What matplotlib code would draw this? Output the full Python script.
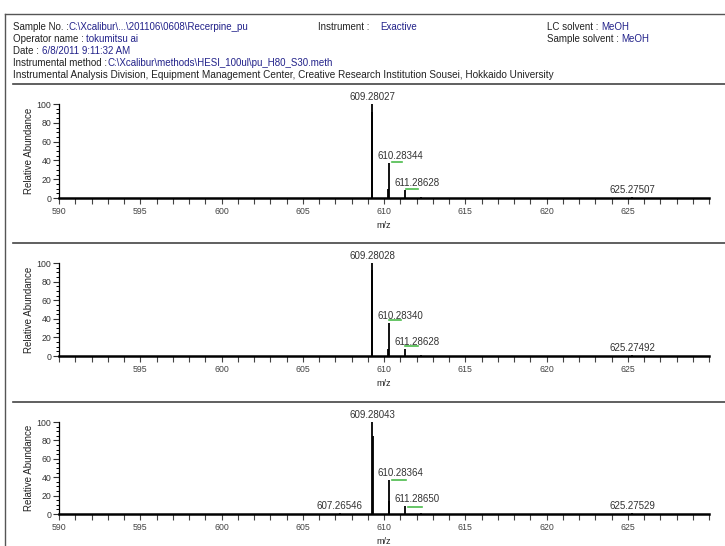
import matplotlib
matplotlib.use('Agg')
import matplotlib.pyplot as plt
import numpy as np
from matplotlib.ticker import MultipleLocator

plt.rcParams['font.family'] = ['Liberation Sans', 'DejaVu Sans']

W, H = 725, 546

# ---- data ----
mz1 = [609.25, 609.28027, 610.25, 610.28344, 611.28628, 612.29, 625.27507]
ab1 = [92, 100, 10, 37, 9, 1.5, 1.5]
lab_mz1 = [609.28027, 610.28344, 611.28628, 625.27507]
lab_ab1 = [100, 37, 9, 1.5]
green1 = [(610.49, 611.11, 38), (611.35, 612.09, 10)]

mz2 = [609.25, 609.28028, 610.25, 610.28340, 611.28628, 612.29, 625.27492]
ab2 = [93, 100, 7, 35, 8, 1.5, 1]
lab_mz2 = [609.28028, 610.28340, 611.28628, 625.27492]
lab_ab2 = [100, 35, 8, 1]
green2 = [(610.28, 611.05, 39), (611.32, 612.09, 11)]

mz3 = [607.26546, 609.28043, 609.30, 610.28364, 610.31, 611.28650, 612.29, 625.27529]
ab3 = [1, 100, 85, 37, 14, 9, 1.5, 1.5]
lab_mz3 = [607.26546, 609.28043, 610.28364, 611.28650, 625.27529]
lab_ab3 = [1, 100, 37, 9, 1.5]
green3 = [(610.49, 611.35, 37), (611.48, 612.34, 8)]

# header fields
hdr_left = [("Sample No. :", "C:\\Xcalibur\\...\\201106\\0608\\Recerpine_pu"),
            ("Operator name : ", "tokumitsu ai"),
            ("Date : ", "6/8/2011 9:11:32 AM"),
            ("Instrumental method :", "C:\\Xcalibur\\methods\\HESI_100ul\\pu_H80_S30.meth")]
hdr_footer = ("Instrumental Analysis Division, Equipment Management Center, "
              "Creative Research Institution Sousei, Hokkaido University")

blue = '#22228a'
ink = '#222222'


def rect(x0, yt, x1, yb):
    return [x0 / W, 1 - yb / H, (x1 - x0) / W, (yb - yt) / H]


fig = plt.figure(figsize=(W / 100, H / 100), dpi=100)

# page background: frame, header, separators (pixel coordinates)
bg = fig.add_axes([0, 0, 1, 1])
bg.set_xlim(0, W)
bg.set_ylim(H, 0)
bg.axis('off')
bg.plot([5, W], [14, 14], c='#555555', lw=1)
bg.plot([5, 5], [14, H], c='#555555', lw=1)
for yy in [84, 243, 402]:
    bg.plot([13, W], [yy, yy], c='#444444', lw=1.2)

rows = [27, 39, 51, 63]
for (lab, val), yy in zip(hdr_left, rows):
    t = bg.text(13, yy, lab, fontsize=7, color=ink, va='center', ha='left')
    bg.annotate(val, xy=(1, 0.5), xycoords=t, va='center', ha='left',
                fontsize=7, color=blue)
bg.text(13, 75, hdr_footer, fontsize=7.2, color=ink, va='center', ha='left')

bg.text(318, 27, "Instrument :", fontsize=7, color=ink, va='center')
bg.text(380, 27, "Exactive", fontsize=7, color=blue, va='center')
t = bg.text(547, 27, "LC solvent : ", fontsize=7, color=ink, va='center')
bg.annotate("MeOH", xy=(1, 0.5), xycoords=t, va='center', fontsize=7, color=blue)
t = bg.text(547, 39, "Sample solvent : ", fontsize=7, color=ink, va='center')
bg.annotate("MeOH", xy=(1, 0.5), xycoords=t, va='center', fontsize=7, color=blue)

panels = [
    (mz1, ab1, lab_mz1, lab_ab1, green1, (59, 104, 709, 198), 226, True),
    (mz2, ab2, lab_mz2, lab_ab2, green2, (59, 263, 709, 356), 384, False),
    (mz3, ab3, lab_mz3, lab_ab3, green3, (59, 422, 709, 514), 541, True),
]

for k, (mz, ab, lmz, lab, grn, box, mzy, show590) in enumerate(panels):
    ax = fig.add_axes(rect(*box))
    ax.set_xlim(590, 630)
    ax.set_ylim(0, 100)
    ax.vlines(mz, 0, ab, colors='k', lw=1.3, zorder=3)
    for g0, g1, lvl in grn:
        ax.plot([g0, g1], [lvl, lvl], c='#4cbb4c', lw=1.2, zorder=2)
    for m, a in zip(lmz, lab):
        dx = 12 if (610 < m < 612) else 0
        ax.annotate('%.5f' % m, xy=(m, a), xytext=(dx, 2),
                    textcoords='offset pixels', ha='center', va='bottom',
                    fontsize=7, color='#333333', annotation_clip=False)

    ax.spines['top'].set_visible(False)
    ax.spines['right'].set_visible(False)
    ax.spines['left'].set_linewidth(0.9)
    ax.spines['bottom'].set_linewidth(1.8)

    ax.xaxis.set_major_locator(MultipleLocator(5))
    ax.xaxis.set_minor_locator(MultipleLocator(1))
    ax.yaxis.set_major_locator(MultipleLocator(20))
    ax.yaxis.set_minor_locator(MultipleLocator(5))
    xt = np.arange(590, 630, 5)
    ax.set_xticks(xt)
    ax.set_xticklabels([str(v) if (v != 590 or show590) else '' for v in xt])
    ax.tick_params(axis='x', which='both', direction='out', length=4.5,
                   width=0.8, pad=2, labelsize=6.3, colors='#444444')
    ax.tick_params(axis='y', which='major', direction='out', length=4,
                   width=0.8, pad=1.5, labelsize=6.3, colors='#333333')
    ax.tick_params(axis='y', which='minor', direction='out', length=2.5, width=0.7)

    ax.text(-30 / 650, 0.5, 'Relative Abundance', transform=ax.transAxes,
            rotation=90, ha='center', va='center', fontsize=7, color=ink)
    bg.text(384, mzy, 'm/z', fontsize=6.5, color=ink, ha='center', va='center')

fig.savefig('out.png', dpi=100)
plt.close()
